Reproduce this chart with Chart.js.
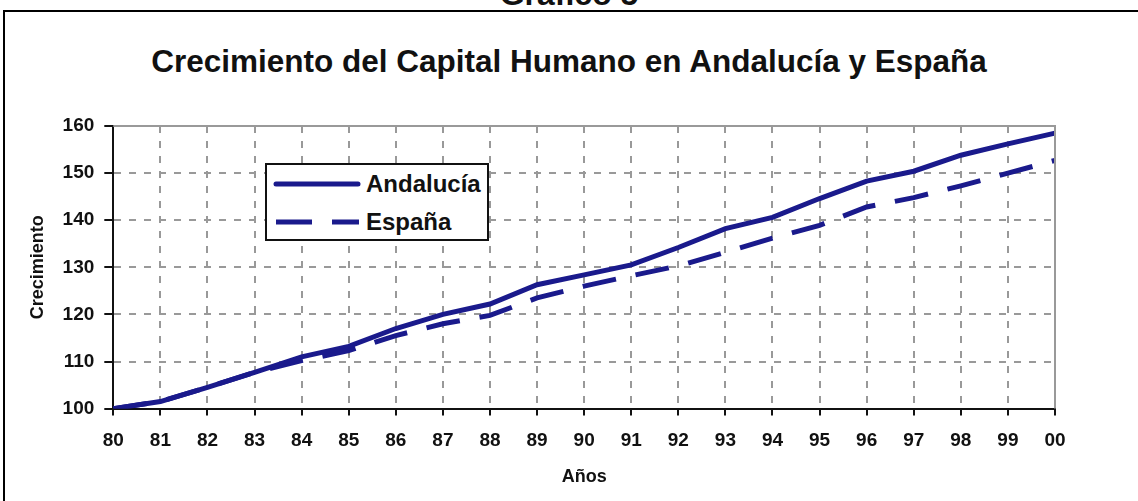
<!DOCTYPE html>
<html>
<head>
<meta charset="utf-8">
<title>Gráfico 5</title>
<script src="https://cdn.jsdelivr.net/npm/chart.js@4.4.1/dist/chart.umd.min.js"></script>
<style>
  html, body { margin: 0; padding: 0; background: #fff; overflow: hidden; }
  body { width: 1138px; height: 501px; position: relative; font-family: "Liberation Sans", Arial, sans-serif; }
  #frame { position: absolute; left: 3px; top: 10px; width: 1200px; height: 600px; border: 2px solid #000; }
  #caption { position: absolute; left: 0; top: -22px; width: 1138px; text-align: center;
             font-size: 32px; font-weight: bold; line-height: 32px; color: #111; }
  #title { position: absolute; left: 0; top: 45px; width: 1138px; text-align: center;
           font-size: 31.5px; font-weight: bold; line-height: 32px; color: #111; }
  #chart { position: absolute; left: 0; top: 0; }
  #legend { position: absolute; left: 265px; top: 163px; width: 220px; height: 74px;
            border: 2px solid #111; background: #fff; }
  .row { position: absolute; left: 6px; height: 30px; display: flex; align-items: center; }
  .row span { font-size: 24px; font-weight: bold; color: #111; margin-left: 5px; }
</style>
</head>
<body>
<div id="frame"></div>
<div id="caption">Gráfico 5</div>
<div id="title">Crecimiento del Capital Humano en Andalucía y España</div>
<canvas id="chart" width="1138" height="501"></canvas>
<div id="legend">
  <div class="row" style="top:4px">
    <svg width="88" height="10"><line x1="3" y1="5" x2="85" y2="5" stroke="#1a1a8c" stroke-width="5" stroke-linecap="round"/></svg>
    <span id="lg0"></span>
  </div>
  <div class="row" style="top:42px">
    <svg width="88" height="10"><line x1="3" y1="5" x2="86" y2="5" stroke="#1a1a8c" stroke-width="5" stroke-dasharray="36 20"/></svg>
    <span id="lg1"></span>
  </div>
</div>

<script>
// data
const years = ["80", "81", "82", "83", "84", "85", "86", "87", "88", "89", "90",
               "91", "92", "93", "94", "95", "96", "97", "98", "99", "00"];
const andalucia = [100, 101.5, 104.5, 107.7, 111, 113.2, 117, 120, 122.2, 126.3, 128.4,
                   130.5, 134.2, 138.2, 140.6, 144.6, 148.3, 150.4, 153.8, 156.2, 158.5];
const espana = [100, 101.5, 104.5, 107.7, 110.2, 112.3, 115.5, 118, 119.8, 123.5, 126,
                128.2, 130.3, 133.2, 136.2, 138.9, 142.8, 144.8, 147.3, 150, 152.7];
const seriesNames = ["Andalucía", "España"];
const yTicks = [100, 110, 120, 130, 140, 150, 160];

const navy = "#1a1a8c";
const gridGray = "#999999";
const fontFamily = "'Liberation Sans', Arial, sans-serif";

document.getElementById("lg0").textContent = seriesNames[0];
document.getElementById("lg1").textContent = seriesNames[1];

// solid grey edge on top and right of the plot area
const plotEdge = {
    id: "plotEdge",
    afterDatasetsDraw(chart) {
        const a = chart.chartArea;
        const ctx = chart.ctx;
        ctx.save();
        ctx.strokeStyle = gridGray;
        ctx.lineWidth = 2;
        ctx.beginPath();
        ctx.moveTo(a.left, a.top);
        ctx.lineTo(a.right, a.top);
        ctx.lineTo(a.right, a.bottom);
        ctx.stroke();
        ctx.restore();
    }
};

new Chart(document.getElementById("chart"), {
    type: "line",
    data: {
        labels: years,
        datasets: [{
            label: seriesNames[0],
            data: andalucia,
            borderColor: navy,
            borderWidth: 5,
            pointRadius: 0,
            tension: 0,
            fill: false
        }, {
            label: seriesNames[1],
            data: espana,
            borderColor: navy,
            borderWidth: 5,
            borderDash: [34, 20],
            pointRadius: 0,
            tension: 0,
            fill: false
        }]
    },
    options: {
        responsive: false,
        animation: false,
        layout: { padding: { left: 27, right: 83, top: 126, bottom: 13 } },
        plugins: {
            legend: { display: false },
            tooltip: { enabled: false },
            title: { display: false }
        },
        scales: {
            x: {
                offset: false,
                grid: {
                    color: gridGray,
                    lineWidth: 2,
                    tickColor: "#111",
                    tickLength: 7,
                    tickWidth: 2
                },
                border: { color: "#111", width: 2, dash: [7, 8] },
                ticks: {
                    color: "#111",
                    padding: 14,
                    maxRotation: 0,
                    autoSkip: false,
                    font: { family: fontFamily, size: 19, weight: "bold" }
                },
                title: {
                    display: true,
                    text: "Años",
                    color: "#111",
                    padding: { top: 0, bottom: 0 },
                    font: { family: fontFamily, size: 18, weight: "bold" }
                }
            },
            y: {
                min: 100,
                max: 160,
                afterBuildTicks: axis => { axis.ticks = yTicks.map(v => ({ value: v })); },
                grid: {
                    color: gridGray,
                    lineWidth: 2,
                    tickColor: "#111",
                    tickLength: 9,
                    tickWidth: 2
                },
                border: { color: "#111", width: 2, dash: [7, 8] },
                ticks: {
                    color: "#111",
                    padding: 10,
                    font: { family: fontFamily, size: 19, weight: "bold" }
                },
                title: {
                    display: true,
                    text: "Crecimiento",
                    color: "#111",
                    padding: { top: 0, bottom: 4 },
                    font: { family: fontFamily, size: 18, weight: "bold" }
                }
            }
        }
    },
    plugins: [plotEdge]
});
</script>
</body>
</html>
